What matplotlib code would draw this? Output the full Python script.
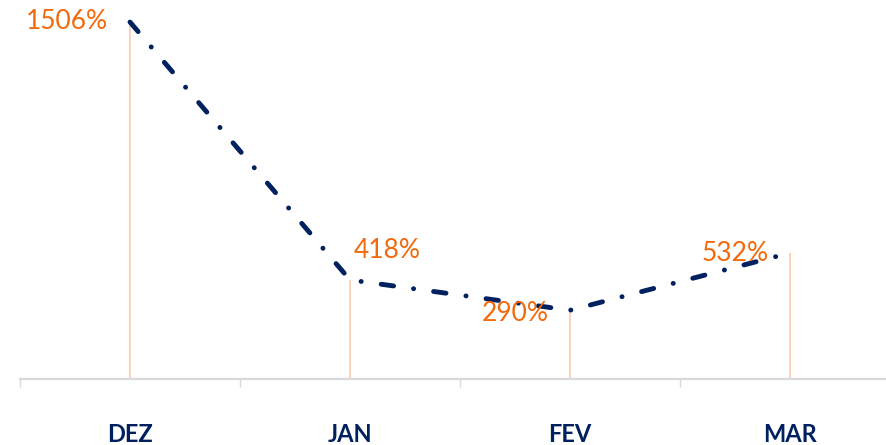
import matplotlib
matplotlib.use("Agg")
import matplotlib.pyplot as plt

categories = ["DEZ", "JAN", "FEV", "MAR"]
values = [1506, 418, 290, 532]
labels = ["1506%", "418%", "290%", "532%"]

plt.rcParams['font.family'] = ['Lato', 'DejaVu Sans']
plt.rcParams['lines.scale_dashes'] = False

W, H = 887, 445
fig = plt.figure(figsize=(W/100, H/100), dpi=100)
left_px, base_px = 20, 379
ax = fig.add_axes([left_px/W, (H-base_px)/H, (W-left_px)/W, base_px/H])

x = list(range(len(categories)))
ax.vlines(x, 0, values, color='#F8CBAD', lw=1.2, zorder=1)
line, = ax.plot(x, values, color='#002060', lw=3.5, zorder=3,
                dash_capstyle='round', solid_capstyle='round')
line.set_dashes((9, 14.5, 0.1, 14.5))

offsets = [(-63, 1), (37, 29), (-55, -3), (-55, -1)]
for xi, v, lab, (dx, dy) in zip(x, values, labels, offsets):
    ax.annotate(lab, (xi, v), xytext=(dx*0.72, dy*0.72), textcoords='offset points',
                ha='center', va='center', color='#F26A0C', fontsize=19, zorder=4)

ax.set_xlim(-0.5, -0.5 + (W-left_px)/220)
ax.set_ylim(0, base_px/0.237)

for s in ['top', 'right', 'left']:
    ax.spines[s].set_visible(False)
ax.spines['bottom'].set_color('#D9D9D9')
ax.spines['bottom'].set_linewidth(1.6)
ax.set_yticks([])
ax.set_xticks([-0.5, 0.5, 1.5, 2.5])
ax.set_xticklabels([])
ax.tick_params(axis='x', which='major', length=6, width=1, color='#D9D9D9')
ax.set_xticks(x, minor=True)
ax.set_xticklabels(categories, minor=True)
ax.tick_params(axis='x', which='minor', length=0, pad=32, labelsize=17,
               labelcolor='#002060')
for t in ax.get_xticklabels(minor=True):
    t.set_fontweight('bold')

fig.savefig('out.png', dpi=100)
